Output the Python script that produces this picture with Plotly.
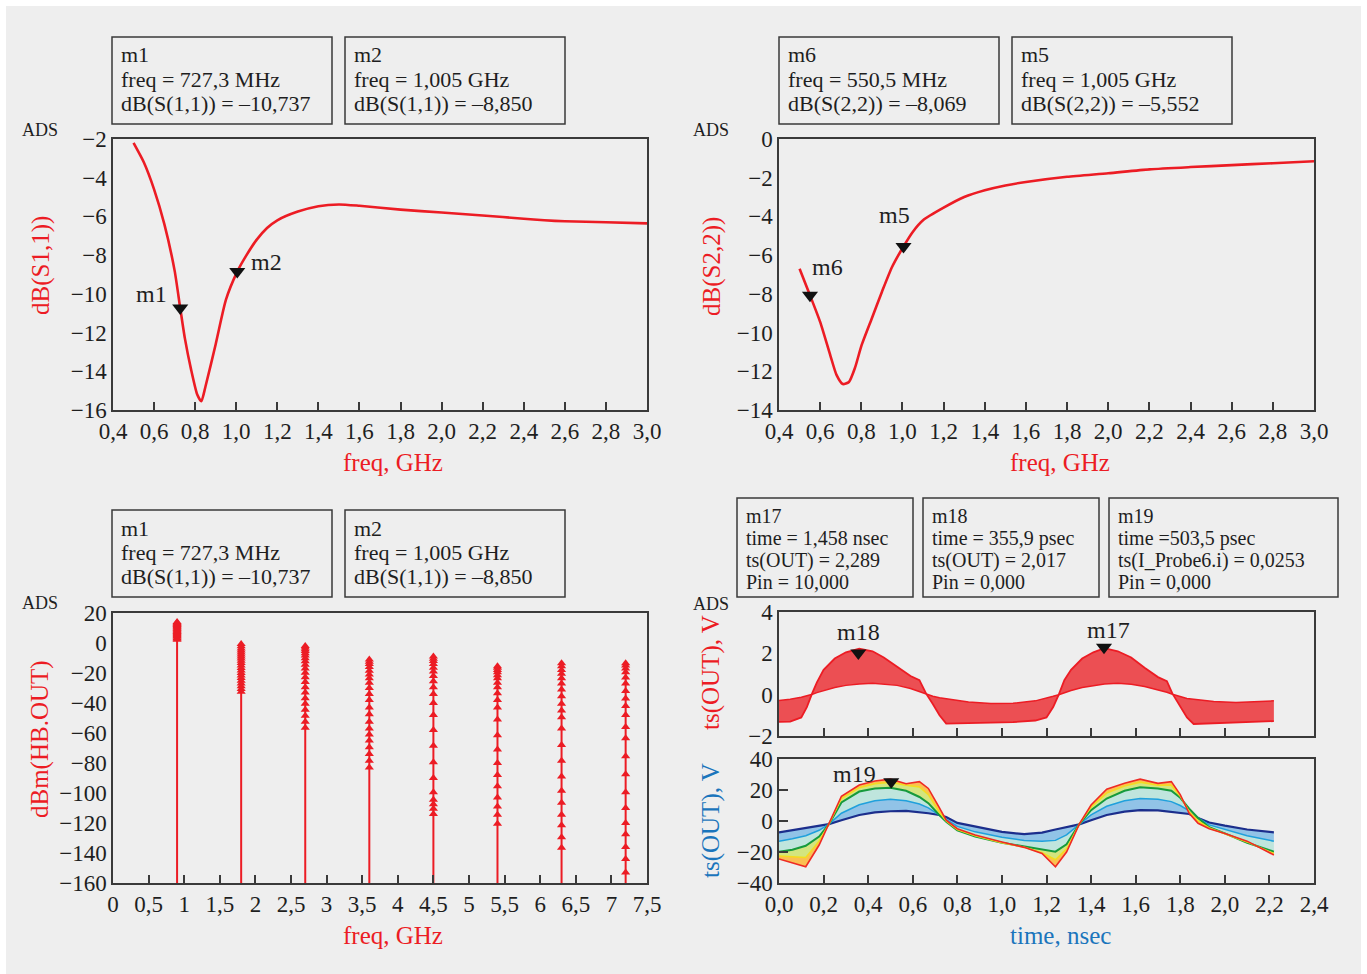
import plotly.graph_objects as go

W, H = 1367, 974

# ------------------------------------------------------------------ data
s11_freq = [0.50, 0.55, 0.60, 0.65, 0.70, 0.7273, 0.75, 0.78, 0.81, 0.83, 0.85, 0.90, 0.95,
            1.005, 1.05, 1.10, 1.15, 1.20, 1.30, 1.40, 1.50, 1.60, 1.80, 2.00, 2.20, 2.40,
            2.50, 2.60, 2.80, 3.00]
s11_db = [-2.2, -3.2, -4.6, -6.4, -8.8, -10.737, -12.3, -13.9, -15.2, -15.55, -14.8, -12.6, -10.3,
          -8.85, -8.0, -7.2, -6.6, -6.2, -5.75, -5.47, -5.38, -5.45, -5.65, -5.8, -5.95, -6.12,
          -6.2, -6.25, -6.3, -6.36]
s11_markers = ["m1", "m2"]
s11_marker_freq = [0.7273, 1.005]
s11_marker_db = [-10.737, -8.850]

s22_freq = [0.50, 0.5505, 0.60, 0.65, 0.68, 0.71, 0.74, 0.77, 0.80, 0.85, 0.90, 0.95, 1.005,
            1.05, 1.10, 1.20, 1.30, 1.40, 1.50, 1.60, 1.80, 2.00, 2.20, 2.40, 2.60, 2.80, 3.00]
s22_db = [-6.7, -8.069, -9.45, -11.2, -12.2, -12.66, -12.55, -11.8, -10.7, -9.3, -7.9, -6.6, -5.552,
          -4.8, -4.2, -3.55, -3.0, -2.65, -2.4, -2.22, -1.95, -1.77, -1.57, -1.45, -1.35, -1.25, -1.15]
s22_markers = ["m6", "m5"]
s22_marker_freq = [0.5505, 1.005]
s22_marker_db = [-8.069, -5.552]

harm_freq = [0.9, 1.8, 2.7, 3.6, 4.5, 5.4, 6.3, 7.2]
h1 = [2.1, 2.8, 3.4, 4.1, 4.7, 5.4, 6.0, 6.6, 7.3, 7.9, 8.5, 9.1, 9.7, 10.3, 10.9, 11.4, 12.0, 12.5, 13.0, 13.5, 14.0]
h2 = [-32.5, -30.6, -28.8, -27.0, -25.2, -23.4, -21.7, -20.0, -18.3, -16.6, -15.0, -13.4, -11.9, -10.4, -9.0, -7.6, -6.3, -5.0, -3.7, -2.1, -0.6]
h3 = [-56.5, -52.5, -48.5, -44.5, -40.5, -36.8, -33.0, -29.5, -26.0, -22.8, -19.8, -17.0, -14.5, -12.2, -10.2, -8.4, -6.8, -5.4, -4.2, -3.0, -2.0]
h4 = [-83.0, -78.5, -74.0, -69.5, -65.0, -61.0, -57.0, -52.5, -47.5, -43.0, -38.0, -34.0, -30.0, -26.5, -23.5, -21.0, -18.5, -16.0, -14.0, -12.5, -11.0]
h5 = [-114.0, -110.5, -107.5, -104.5, -99.5, -90.0, -79.5, -68.5, -58.0, -48.0, -40.0, -34.0, -29.5, -25.5, -22.0, -19.0, -16.5, -14.0, -12.0, -10.5, -9.0]
h6 = [-120.5, -114.5, -109.0, -103.0, -95.5, -88.0, -80.0, -71.0, -61.5, -51.0, -43.0, -38.0, -33.5, -29.5, -26.5, -23.5, -21.5, -19.5, -18.0, -16.5, -15.5]
h7 = [-136.5, -129.5, -121.5, -114.5, -106.5, -98.5, -89.0, -78.5, -68.0, -57.0, -49.5, -45.0, -40.5, -35.5, -31.0, -27.0, -23.5, -20.5, -18.0, -15.5, -13.5]
h8 = [-153.0, -144.0, -136.0, -127.5, -120.0, -110.0, -99.5, -87.5, -75.5, -63.5, -56.0, -48.0, -42.0, -37.0, -32.0, -27.0, -23.0, -19.5, -17.0, -15.0, -13.5]
harm_levels = [h1, h2, h3, h4, h5, h6, h7, h8]
spec_floor = -160

# time-domain output voltage (upper panel): Pin = 0 and Pin = 10 dBm
tv_time = [0, 0.05, 0.10, 0.125, 0.15, 0.17, 0.20, 0.25, 0.30, 0.36, 0.42, 0.47, 0.53, 0.59, 0.63,
           0.66, 0.69, 0.72, 0.75, 0.85, 0.95, 1.05, 1.15, 1.20, 1.23, 1.255, 1.28, 1.31, 1.36,
           1.41, 1.46, 1.52, 1.58, 1.64, 1.70, 1.74, 1.765, 1.80, 1.83, 1.86, 1.95, 2.05, 2.15, 2.22]
tv_pin0 = [-0.28, -0.22, -0.12, -0.06, 0.02, 0.1, 0.2, 0.35, 0.45, 0.52, 0.55, 0.52, 0.45, 0.3, 0.15,
           0.02, -0.08, -0.15, -0.2, -0.35, -0.43, -0.42, -0.3, -0.18, -0.08, 0.0, 0.1, 0.2, 0.35,
           0.45, 0.52, 0.55, 0.5, 0.4, 0.25, 0.12, 0.02, -0.1, -0.18, -0.22, -0.33, -0.38, -0.33, -0.3]
tv_pin10 = [-1.32, -1.3, -1.1, -0.6, 0.1, 0.6, 1.2, 1.75, 2.05, 2.22, 2.1, 1.8, 1.35, 0.9, 0.7,
            0.05, -0.45, -1.0, -1.4, -1.38, -1.36, -1.33, -1.25, -1.1, -0.6, 0.0, 0.7, 1.2, 1.75,
            2.05, 2.25, 2.1, 1.8, 1.3, 0.85, 0.65, 0.05, -0.55, -1.1, -1.42, -1.38, -1.33, -1.3, -1.28]
tv_markers = ["m18", "m17"]
tv_marker_time = [0.3559, 1.458]
tv_marker_val = [2.017, 2.289]

# lower panel: family over Pin (0 ... 10 dBm)
ti_time = [0, 0.06, 0.12, 0.18, 0.224, 0.28, 0.36, 0.43, 0.50, 0.57, 0.63, 0.67, 0.718, 0.75, 0.80,
           0.88, 1.00, 1.10, 1.18, 1.24, 1.29, 1.347, 1.40, 1.47, 1.55, 1.62, 1.70, 1.76, 1.80,
           1.84, 1.88, 1.93, 2.00, 2.10, 2.22]
ti_pin0 = [-7.3, -6.0, -4.5, -3.0, -2.0, 0.5, 3.9, 5.6, 6.3, 6.5, 5.8, 5.0, 3.9, 2.5, -1.2,
           -3.7, -7.0, -8.5, -7.5, -5.5, -4.0, -2.2, 0.5, 3.9, 6.0, 7.0, 6.8, 5.8, 5.0,
           4.5, 2.0, -1.0, -3.0, -5.5, -7.3]
ti_pin2 = [-13.0, -11.5, -9.5, -6.0, -2.0, 5.0, 10.5, 13.0, 14.0, 13.0, 11.0, 8.5, 4.0, 1.0, -3.5,
           -7.0, -10.5, -12.5, -13.0, -12.5, -9.0, -2.2, 4.0, 9.5, 13.0, 14.5, 14.0, 12.5, 10.0,
           6.5, 2.0, -2.5, -5.5, -9.5, -13.0]
ti_pin5 = [-19.8, -18.5, -16.0, -10.0, -2.0, 12.0, 19.0, 21.0, 21.5, 19.5, 15.5, 11.5, 4.0, -0.5, -6.0,
           -10.0, -14.0, -16.5, -18.7, -19.8, -15.0, -2.0, 7.0, 14.5, 19.5, 21.7, 21.0, 19.5, 15.0,
           8.0, 2.0, -4.0, -8.0, -14.0, -19.8]
ti_pin7 = [-22.5, -23.0, -23.5, -13.0, -2.0, 14.5, 21.5, 24.0, 25.0, 23.0, 22.0, 17.0, 6.0, 0.0, -5.5,
           -9.5, -14.0, -17.0, -20.5, -25.0, -18.0, -2.0, 9.0, 18.0, 22.5, 25.0, 23.0, 23.0, 16.0,
           6.0, 0.0, -4.5, -8.0, -13.5, -21.0]
ti_pin10 = [-24.5, -27.0, -29.5, -15.5, -2.0, 16.0, 23.2, 25.8, 27.0, 24.0, 25.4, 21.0, 9.0, 0.5, -5.0,
            -9.0, -13.5, -17.0, -21.0, -29.5, -20.0, -2.0, 10.3, 20.5, 24.3, 27.0, 24.3, 25.4, 17.0,
            5.0, -1.5, -5.0, -8.0, -13.0, -21.9]
ti_marker = "m19"
ti_marker_time = 0.5035
ti_marker_val = 0.0253 * 1000  # mA scale of the panel

# ------------------------------------------------------------------ style
RED = "#ec1c24"
BLUE = "#1b75bc"
AX = "#3a3a3a"
BG = "#eeeeee"
SERIF = "Liberation Serif"


def px(x):
    return x / W


def py(y):
    return 1 - y / H


fig = go.Figure()

# top-left: S11
fig.add_trace(go.Scatter(x=s11_freq, y=s11_db, mode="lines", line=dict(color=RED, width=2.6, shape="spline", smoothing=0.6),
                         xaxis="x", yaxis="y", showlegend=False))
fig.add_trace(go.Scatter(x=s11_marker_freq, y=s11_marker_db, mode="markers",
                         marker=dict(symbol="triangle-down", size=14, color="#111"),
                         xaxis="x", yaxis="y", showlegend=False))
# top-right: S22
fig.add_trace(go.Scatter(x=s22_freq, y=s22_db, mode="lines", line=dict(color=RED, width=2.6, shape="spline", smoothing=0.6),
                         xaxis="x2", yaxis="y2", showlegend=False))
fig.add_trace(go.Scatter(x=s22_marker_freq, y=s22_marker_db, mode="markers",
                         marker=dict(symbol="triangle-down", size=14, color="#111"),
                         xaxis="x2", yaxis="y2", showlegend=False))

# bottom-left: spectrum
stem_x, stem_y, mk_x, mk_y = [], [], [], []
for f, lev in zip(harm_freq, harm_levels):
    stem_x += [f, f, None]
    stem_y += [spec_floor, max(lev), None]
    mk_x += [f] * len(lev)
    mk_y += lev
fig.add_trace(go.Scatter(x=stem_x, y=stem_y, mode="lines", line=dict(color=RED, width=2),
                         xaxis="x3", yaxis="y3", showlegend=False))
fig.add_trace(go.Scatter(x=mk_x, y=mk_y, mode="markers",
                         marker=dict(symbol="triangle-up", size=8, color=RED),
                         xaxis="x3", yaxis="y3", showlegend=False))

# bottom-right upper: voltage family (band between Pin extremes)
fig.add_trace(go.Scatter(x=tv_time, y=tv_pin0, mode="lines", line=dict(color=RED, width=1.5),
                         xaxis="x4", yaxis="y4", showlegend=False))
fig.add_trace(go.Scatter(x=tv_time, y=tv_pin10, mode="lines", line=dict(color=RED, width=1.8),
                         fill="tonexty", fillcolor="rgba(236,35,40,0.78)",
                         xaxis="x4", yaxis="y4", showlegend=False))
fig.add_trace(go.Scatter(x=tv_marker_time, y=tv_marker_val, mode="markers",
                         marker=dict(symbol="triangle-down", size=14, color="#111"),
                         xaxis="x4", yaxis="y4", showlegend=False))

# bottom-right lower: coloured Pin family
fam = [
    (ti_pin0, "#1c2e8c", None, 2.2),
    (ti_pin2, "#1fa0dc", "rgba(70,160,225,0.55)", 1.5),
    (ti_pin5, "#169a3c", "rgba(175,225,215,0.75)", 2.0),
    (ti_pin7, "#f4dc1e", "rgba(200,225,80,0.7)", 1.5),
    (ti_pin10, "#ee2a24", "rgba(255,175,30,0.75)", 1.6),
]
for vals, col, fcol, w in fam:
    fig.add_trace(go.Scatter(x=ti_time, y=vals, mode="lines", line=dict(color=col, width=w),
                             fill="tonexty" if fcol else None, fillcolor=fcol,
                             xaxis="x5", yaxis="y5", showlegend=False))
fig.add_trace(go.Scatter(x=[ti_marker_time], y=[ti_marker_val], mode="markers",
                         marker=dict(symbol="triangle-down", size=14, color="#111"),
                         xaxis="x5", yaxis="y5", showlegend=False))

# ------------------------------------------------------------------ axes
tickfont = dict(family=SERIF, size=23, color="#1e1e1e")
base = dict(showline=True, mirror=True, linecolor=AX, linewidth=1.5, showgrid=False,
            zeroline=False, tickfont=tickfont, automargin=False)
xbase = dict(base, ticks="inside", ticklen=8, tickwidth=1.5, tickcolor=AX)
ybase = dict(base, ticks="")

dom_tl_x = [px(113), px(647)]
dom_tr_x = [px(779), px(1314)]
dom_top_y = [py(410), py(139)]
dom_bot_y = [py(883), py(613)]
dom_bru_y = [py(736), py(612)]
dom_brl_y = [py(883), py(759)]

fig.update_layout(
    xaxis=dict(xbase, domain=dom_tl_x, anchor="y", range=[0.4, 3.0], dtick=0.2, tick0=0.4, tickformat=".1f"),
    yaxis=dict(ybase, domain=dom_top_y, anchor="x", range=[-16, -2], dtick=2),
    xaxis2=dict(xbase, domain=dom_tr_x, anchor="y2", range=[0.4, 3.0], dtick=0.2, tick0=0.4, tickformat=".1f"),
    yaxis2=dict(ybase, domain=dom_top_y, anchor="x2", range=[-14, 0], dtick=2),
    xaxis3=dict(xbase, domain=dom_tl_x, anchor="y3", range=[0, 7.5], dtick=0.5, tick0=0),
    yaxis3=dict(ybase, domain=dom_bot_y, anchor="x3", range=[-160, 20], dtick=20),
    xaxis4=dict(xbase, domain=dom_tr_x, anchor="y4", range=[0, 2.4], dtick=0.2, showticklabels=False),
    yaxis4=dict(ybase, domain=dom_bru_y, anchor="x4", range=[-2, 4], dtick=2),
    xaxis5=dict(xbase, domain=dom_tr_x, anchor="y5", range=[0, 2.4], dtick=0.2, tick0=0, tickformat=".1f"),
    yaxis5=dict(ybase, domain=dom_brl_y, anchor="x5", range=[-40, 40], dtick=20,
                ticks="inside", ticklen=9, tickwidth=1.5, tickcolor=AX),
)

# ------------------------------------------------------------------ annotations & boxes
ann = []
shapes = [dict(type="rect", xref="paper", yref="paper", x0=px(6), x1=px(1361), y0=0, y1=py(6),
               fillcolor=BG, line=dict(width=0), layer="below")]


def text(x, y, s, size, color="#1e1e1e", xanchor="center", angle=0):
    ann.append(dict(x=px(x), y=py(y), xref="paper", yref="paper", text=s, showarrow=False,
                    xanchor=xanchor, yanchor="middle", textangle=angle,
                    font=dict(family=SERIF, size=size, color=color)))


def box(x0, y0, x1, y1, lines, ys, size):
    shapes.append(dict(type="rect", xref="paper", yref="paper", x0=px(x0), x1=px(x1),
                       y0=py(y1), y1=py(y0), line=dict(color=AX, width=1.5)))
    for s, yy in zip(lines, ys):
        text(x0 + 7, yy, s, size, xanchor="left")


ys3 = [55, 79, 103]
box(112, 37, 332, 124, ["m1", "freq = 727,3 MHz", "dB(S(1,1)) = –10,737"], ys3, 22)
box(345, 37, 565, 124, ["m2", "freq = 1,005 GHz", "dB(S(1,1)) = –8,850"], ys3, 22)
box(779, 37, 999, 124, ["m6", "freq = 550,5 MHz", "dB(S(2,2)) = –8,069"], ys3, 22)
box(1012, 37, 1232, 124, ["m5", "freq = 1,005 GHz", "dB(S(2,2)) = –5,552"], ys3, 22)
ys3b = [y + 473 for y in ys3]
box(112, 510, 332, 597, ["m1", "freq = 727,3 MHz", "dB(S(1,1)) = –10,737"], ys3b, 22)
box(345, 510, 565, 597, ["m2", "freq = 1,005 GHz", "dB(S(1,1)) = –8,850"], ys3b, 22)
ys4 = [516, 538, 560, 582]
box(737, 498, 913, 597, ["m17", "time = 1,458 nsec", "ts(OUT) = 2,289", "Pin = 10,000"], ys4, 20)
box(923, 498, 1099, 597, ["m18", "time = 355,9 psec", "ts(OUT) = 2,017", "Pin = 0,000"], ys4, 20)
box(1109, 498, 1338, 597, ["m19", "time =503,5 psec", "ts(I_Probe6.i) = 0,0253", "Pin = 0,000"], ys4, 20)

# ADS tags
for x, y in [(40, 130), (711, 130), (40, 603), (711, 604)]:
    text(x, y, "ADS", 18)

# axis titles
text(41, 266, "dB(S1,1))", 25, RED, angle=-90)
text(712, 267, "dB(S2,2))", 25, RED, angle=-90)
text(40, 739, "dBm(HB.OUT)", 25, RED, angle=-90)
text(711, 673, "ts(OUT), V", 25, RED, angle=-90)
text(711, 821, "ts(OUT), V", 25, BLUE, angle=-90)
text(393, 462, "freq, GHz", 25, RED)
text(1060, 462, "freq, GHz", 25, RED)
text(393, 935, "freq, GHz", 25, RED)
text(1060, 935, "time, nsec", 25, BLUE)


# marker labels
def mlabel(xref, yref, x, y, s, dx, dy):
    ann.append(dict(x=x, y=y, xref=xref, yref=yref, text=s, showarrow=False, xshift=dx, yshift=dy,
                    font=dict(family=SERIF, size=24, color="#1e1e1e")))


mlabel("x", "y", s11_marker_freq[0], s11_marker_db[0], s11_markers[0], -29, 14)
mlabel("x", "y", s11_marker_freq[1], s11_marker_db[1], s11_markers[1], 29, 10)
mlabel("x2", "y2", s22_marker_freq[0], s22_marker_db[0], s22_markers[0], 18, 28)
mlabel("x2", "y2", s22_marker_freq[1], s22_marker_db[1], s22_markers[1], -9, 31)
mlabel("x4", "y4", tv_marker_time[0], tv_marker_val[0], tv_markers[0], 0, 21)
mlabel("x4", "y4", tv_marker_time[1], tv_marker_val[1], tv_markers[1], 4, 17)
mlabel("x5", "y5", ti_marker_time, ti_marker_val, ti_marker, -37, 8)

fig.update_layout(
    template="none",
    width=W, height=H, margin=dict(l=0, r=0, t=0, b=0, autoexpand=False),
    paper_bgcolor="white", plot_bgcolor="rgba(0,0,0,0)",
    separators=", ",
    annotations=ann, shapes=shapes,
    font=dict(family=SERIF),
)

fig.write_html("out.html")
